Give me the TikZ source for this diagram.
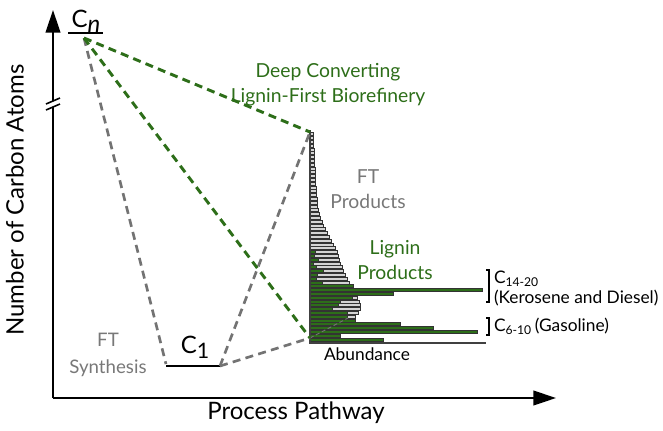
\documentclass[tikz,border=0pt]{standalone}
\usepackage{fontspec}
\setmainfont{Lato}
\usepackage{xcolor}
\usetikzlibrary{arrows.meta}

\definecolor{lgreen}{RGB}{45,110,25}
\definecolor{dgray}{RGB}{115,115,115}
\definecolor{lgray}{RGB}{212,212,212}
\definecolor{tgray}{RGB}{120,120,120}

\begin{document}
\begin{tikzpicture}
  [x=0.75pt,y=-0.75pt,
   every node/.style={inner sep=0pt,outer sep=0pt},
   axis/.style={line width=1.5pt,-{Triangle[length=17pt,width=11pt]}},
   grayline/.style={dgray,line width=2pt,dash pattern=on 6pt off 4pt},
   greenline/.style={lgreen,line width=2.2pt,dash pattern=on 6pt off 4pt},
   ftbar/.style={fill=lgray,draw=black!80,line width=0.3pt},
   ligbar/.style={fill=lgreen,draw=black!80,line width=0.3pt},
   big/.style={font=\fontsize{18}{22}\selectfont},
   mid/.style={font=\fontsize{14.5}{18.5}\selectfont,align=center},
   small/.style={font=\fontsize{13}{15}\selectfont}]
  \useasboundingbox (0,0) rectangle (663,430);

  % axes
  \coordinate (origin) at (53,398);
  \coordinate (ytip) at (53,10);
  \coordinate (xtip) at (556,398);
  \coordinate (brklo) at (53,107);
  \coordinate (brkhi) at (53,101);
  \draw[line width=1.5pt] (origin) -- (brklo);
  \draw[axis] (brkhi) -- (ytip);
  \draw[axis] (origin) -- (xtip);
  \draw[line width=1.2pt] (46,110) -- (60,104);
  \draw[line width=1.2pt] (46,104) -- (60,98);

  \node[big,rotate=90] (ylab) at (15,200) {Number of Carbon Atoms};
  \node[big] (xlab) at (296,413) {Process Pathway};

  % C_n and C_1
  \node[big,anchor=base] (cn) at (86,27) {C\raisebox{-4pt}{\itshape n}};
  \draw[line width=1.2pt] (68,33) -- (103,33);
  \node[big,anchor=base] (c1) at (195,353) {C\raisebox{-4pt}{\fontsize{16}{16}\selectfont 1}};
  \draw[line width=1.2pt] (166,366) -- (220,366);

  \coordinate (cntip) at (84,38);
  \coordinate (c1l) at (166,364);
  \coordinate (c1r) at (220,366);
  \coordinate (htop) at (310,132);
  \coordinate (hbot) at (310,338);

  % histogram bars
  \foreach \i/\g in {0/3,1/3.2,2/3.4,3/3.6,4/3.8,5/4,6/4.2,7/4.4,8/4.6,9/4.8,
    10/4.9,11/5,12/5.2,13/5.5,14/5.8,15/6.1,16/6.4,17/6.8,18/7.2,19/7.6,
    20/8,21/9.2,22/10.5,23/12,24/13.5,25/15,26/17,27/19,28/21,29/23,
    30/25,31/27,32/28,33/29.5,34/30.5,35/32,36/33,37/35,38/37,39/39,
    40/41,41/43,42/45,43/47,44/49,45/50,46/50,47/48,48/45,49/40,
    50/32,51/24,52/16,53/9,54/4}
    \draw[ftbar] (310,134+3.8*\i-1.5) rectangle ++(\g,3);
  \foreach \i/\l in {31/5,32/4,33/8,34/3,35/6,36/13,37/7,38/6,39/12,
    40/43,41/172,42/83,43/42,44/30,45/28,46/22,47/37,48/37,49/45,
    50/90,51/123,52/167,53/30,54/73}
    \draw[ligbar] (310,134+3.8*\i-1.5) rectangle ++(\l,3);
  \draw[dgray,line width=0.7pt,dash pattern=on 3pt off 2pt] (hbot) -- (348,318);
  \draw[black!75,line width=1pt] (310,130) -- (310,343) -- (486,343);

  % pathways
  \draw[grayline] (cntip) -- (c1l);
  \draw[grayline] (c1r) -- (htop);
  \draw[grayline] (c1r) -- (hbot);
  \draw[greenline] (cntip) -- (htop);
  \draw[greenline] (cntip) -- (hbot);

  % labels
  \node[mid,lgreen] (dclfb) at (328,85) {Deep Converting\\Lignin-First Biorefinery};
  \node[mid,tgray] (ftprod) at (368,189) {FT\\Products};
  \node[mid,lgreen] (ligprod) at (395,260) {Lignin\\Products};
  \node[mid,tgray,font=\fontsize{14}{20}\selectfont] (ftsyn) at (108,355) {FT\\Synthesis};
  \node[small] (abund) at (367,354) {Abundance};

  \draw[line width=0.8pt] (486,270) -- (489,270) -- (489,302) -- (486,302);
  \draw[line width=0.8pt] (486,318) -- (489,318) -- (489,335) -- (486,335);
  \node[small,anchor=west,align=left] (kero) at (494,288) {C\textsubscript{14-20}\\(Kerosene and Diesel)};
  \node[small,anchor=west] (gasol) at (494,326) {C\textsubscript{6-10}\,(Gasoline)};
\end{tikzpicture}
\end{document}
